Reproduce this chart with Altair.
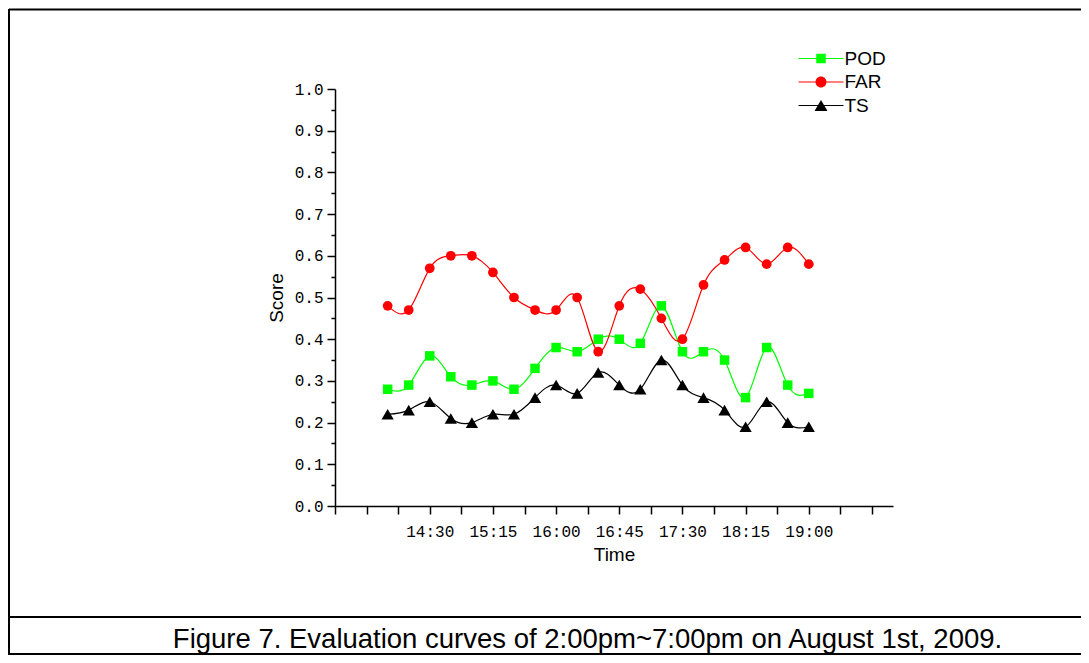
import altair as alt
import pandas as pd

# ---- data ----
TIMES = ["14:00", "14:15", "14:30", "14:45", "15:00", "15:15", "15:30", "15:45",
         "16:00", "16:15", "16:30", "16:45", "17:00", "17:15", "17:30", "17:45",
         "18:00", "18:15", "18:30", "18:45", "19:00"]
POD = [0.28, 0.29, 0.36, 0.31, 0.29, 0.30, 0.28, 0.33, 0.38, 0.37, 0.40,
       0.40, 0.39, 0.48, 0.37, 0.37, 0.35, 0.26, 0.38, 0.29, 0.27]
FAR = [0.48, 0.47, 0.57, 0.60, 0.60, 0.56, 0.50, 0.47, 0.47, 0.50, 0.37,
       0.48, 0.52, 0.45, 0.40, 0.53, 0.59, 0.62, 0.58, 0.62, 0.58]
TS = [0.22, 0.23, 0.25, 0.21, 0.20, 0.22, 0.22, 0.26, 0.29, 0.27, 0.32,
      0.29, 0.28, 0.35, 0.29, 0.26, 0.23, 0.19, 0.25, 0.20, 0.19]

SERIES = ["POD", "FAR", "TS"]
COLORS = ["#00FF00", "#FF0000", "#000000"]
SHAPES = ["square", "circle", "triangle-up"]
SIZES = [90, 95, 150]
X_TICK_LABELS = ["14:30", "15:15", "16:00", "16:45", "17:30", "18:15", "19:00"]
X_TITLE = "Time"
Y_TITLE = "Score"
CAPTION = "Figure 7. Evaluation curves of 2:00pm~7:00pm on August 1st, 2009."

# legend symbols: a short line with the marker on it (custom SVG paths)
LEGEND_PATHS = [
    "M-4.5,-0.1L4.5,-0.1L4.5,0.1L-4.5,0.1Z M-0.95,-0.95L0.95,-0.95L0.95,0.95L-0.95,0.95Z",
    "M-4.5,-0.1L4.5,-0.1L4.5,0.1L-4.5,0.1Z M-1.1,0A1.1,1.1,0,1,1,1.1,0A1.1,1.1,0,1,1,-1.1,0Z",
    "M-4.5,-0.1L4.5,-0.1L4.5,0.1L-4.5,0.1Z M0,-1.1L1.3,1.1L-1.3,1.1Z",
]


def to_min(t):
    h, m = t.split(":")
    return (int(h) - 14) * 60 + int(m)


rows = []
for s, vals in zip(SERIES, [POD, FAR, TS]):
    for t, v in zip(TIMES, vals):
        rows.append({"minute": to_min(t), "value": v, "series": s})
df = pd.DataFrame(rows)

# x axis ticks every 22.5 minutes; labels every 45
x_ticks = [-37.5 + 22.5 * i for i in range(18)]
label_expr = "''"
for lab in reversed(X_TICK_LABELS):
    label_expr = f"datum.value === {to_min(lab)} ? '{lab}' : ({label_expr})"

y_ticks = [round(0.05 * i, 2) for i in range(21)]

x_axis = alt.Axis(values=x_ticks, labelExpr=label_expr, tickSize=8, labelPadding=9,
                  labelFlush=False, labelOverlap=False, title=X_TITLE,
                  titleX=279, titleY=48, titleBaseline="middle", titleAlign="center")
y_axis = alt.Axis(values=y_ticks,
                  labelExpr="round(datum.value*20) % 2 === 0 ? format(datum.value, '.1f') : ''",
                  tickSize={"condition": {"test": "round(datum.value*20) % 2 === 0", "value": 8},
                            "value": 4},
                  labelPadding=4, labelFlush=False, labelOverlap=False, title=Y_TITLE,
                  titleX=-59, titleY=208.5, titleBaseline="middle", titleAlign="center")

X = alt.X("minute:Q", scale=alt.Scale(domain=[-37.5, 360], nice=False, zero=False), axis=x_axis)
Y = alt.Y("value:Q", scale=alt.Scale(domain=[0, 1], nice=False), axis=y_axis)

base = alt.Chart(df)

line_layers, point_layers = [], []
for s, c, sh, sz in zip(SERIES, COLORS, SHAPES, SIZES):
    sub = base.transform_filter(alt.datum.series == s)
    line_layers.append(sub.mark_line(interpolate="natural", strokeWidth=1.2, color=c)
                       .encode(x=X, y=Y))
    point_layers.append(sub.mark_point(shape=sh, filled=True, size=sz, color=c, opacity=1,
                                       strokeWidth=0).encode(x=X, y=Y))

# legend carrier: one row per series, drawn off-canvas; it only supplies the legend
legend_rows = alt.Data(values=[{"series": s} for s in SERIES])
leg = alt.Legend(title=None, orient="right", offset=-59, padding=-40, symbolSize=100,
                 symbolStrokeWidth=0, symbolOffset=17.5, labelOffset=14, rowPadding=3.5,
                 labelFont="Liberation Sans", labelFontSize=19, labelColor="black")
legend_layer = alt.Chart(legend_rows).mark_point(filled=True, opacity=1, size=100).encode(
    x=alt.value(-3000), y=alt.value(-3000),
    color=alt.Color("series:N", scale=alt.Scale(domain=SERIES, range=COLORS), legend=leg),
    shape=alt.Shape("series:N", scale=alt.Scale(domain=SERIES, range=LEGEND_PATHS), legend=leg),
)

one = alt.Data(values=[{"k": 1}])
frame_top = alt.Chart(one).mark_rule(color="black", strokeWidth=2).encode(
    x=alt.value(-326), x2=alt.value(746), y=alt.value(-79.5))
frame_left = alt.Chart(one).mark_rule(color="black", strokeWidth=2).encode(
    x=alt.value(-326), y=alt.value(-80), y2=alt.value(566))
frame_mid = alt.Chart(one).mark_rule(color="black", strokeWidth=2).encode(
    x=alt.value(-326), x2=alt.value(746), y=alt.value(528))
frame_bottom = alt.Chart(one).mark_rule(color="black", strokeWidth=2).encode(
    x=alt.value(-326), x2=alt.value(746), y=alt.value(565))
caption = alt.Chart(alt.Data(values=[{"t": CAPTION}])).mark_text(
    font="Liberation Sans", fontSize=27.5, color="black", align="center", baseline="alphabetic"
).encode(x=alt.value(252.5), y=alt.value(559), text="t:N")

chart = alt.layer(
    *line_layers, *point_layers, legend_layer,
    frame_top, frame_left, frame_mid, frame_bottom, caption
).properties(
    width=558, height=417,
    autosize=alt.AutoSizeParams(type="none"),
    padding={"left": 327, "top": 81, "right": 188, "bottom": 149},
    background="white",
).configure_view(stroke=None).configure_axis(
    grid=False, domainColor="black", tickColor="black", labelColor="black",
    titleColor="black", domainWidth=1.5, tickWidth=1.5,
    labelFont="Liberation Mono", labelFontSize=16,
    titleFont="Liberation Sans", titleFontSize=19, titleFontWeight="normal",
)

chart.save("out.html", embed_options={"renderer": "svg", "actions": False})
